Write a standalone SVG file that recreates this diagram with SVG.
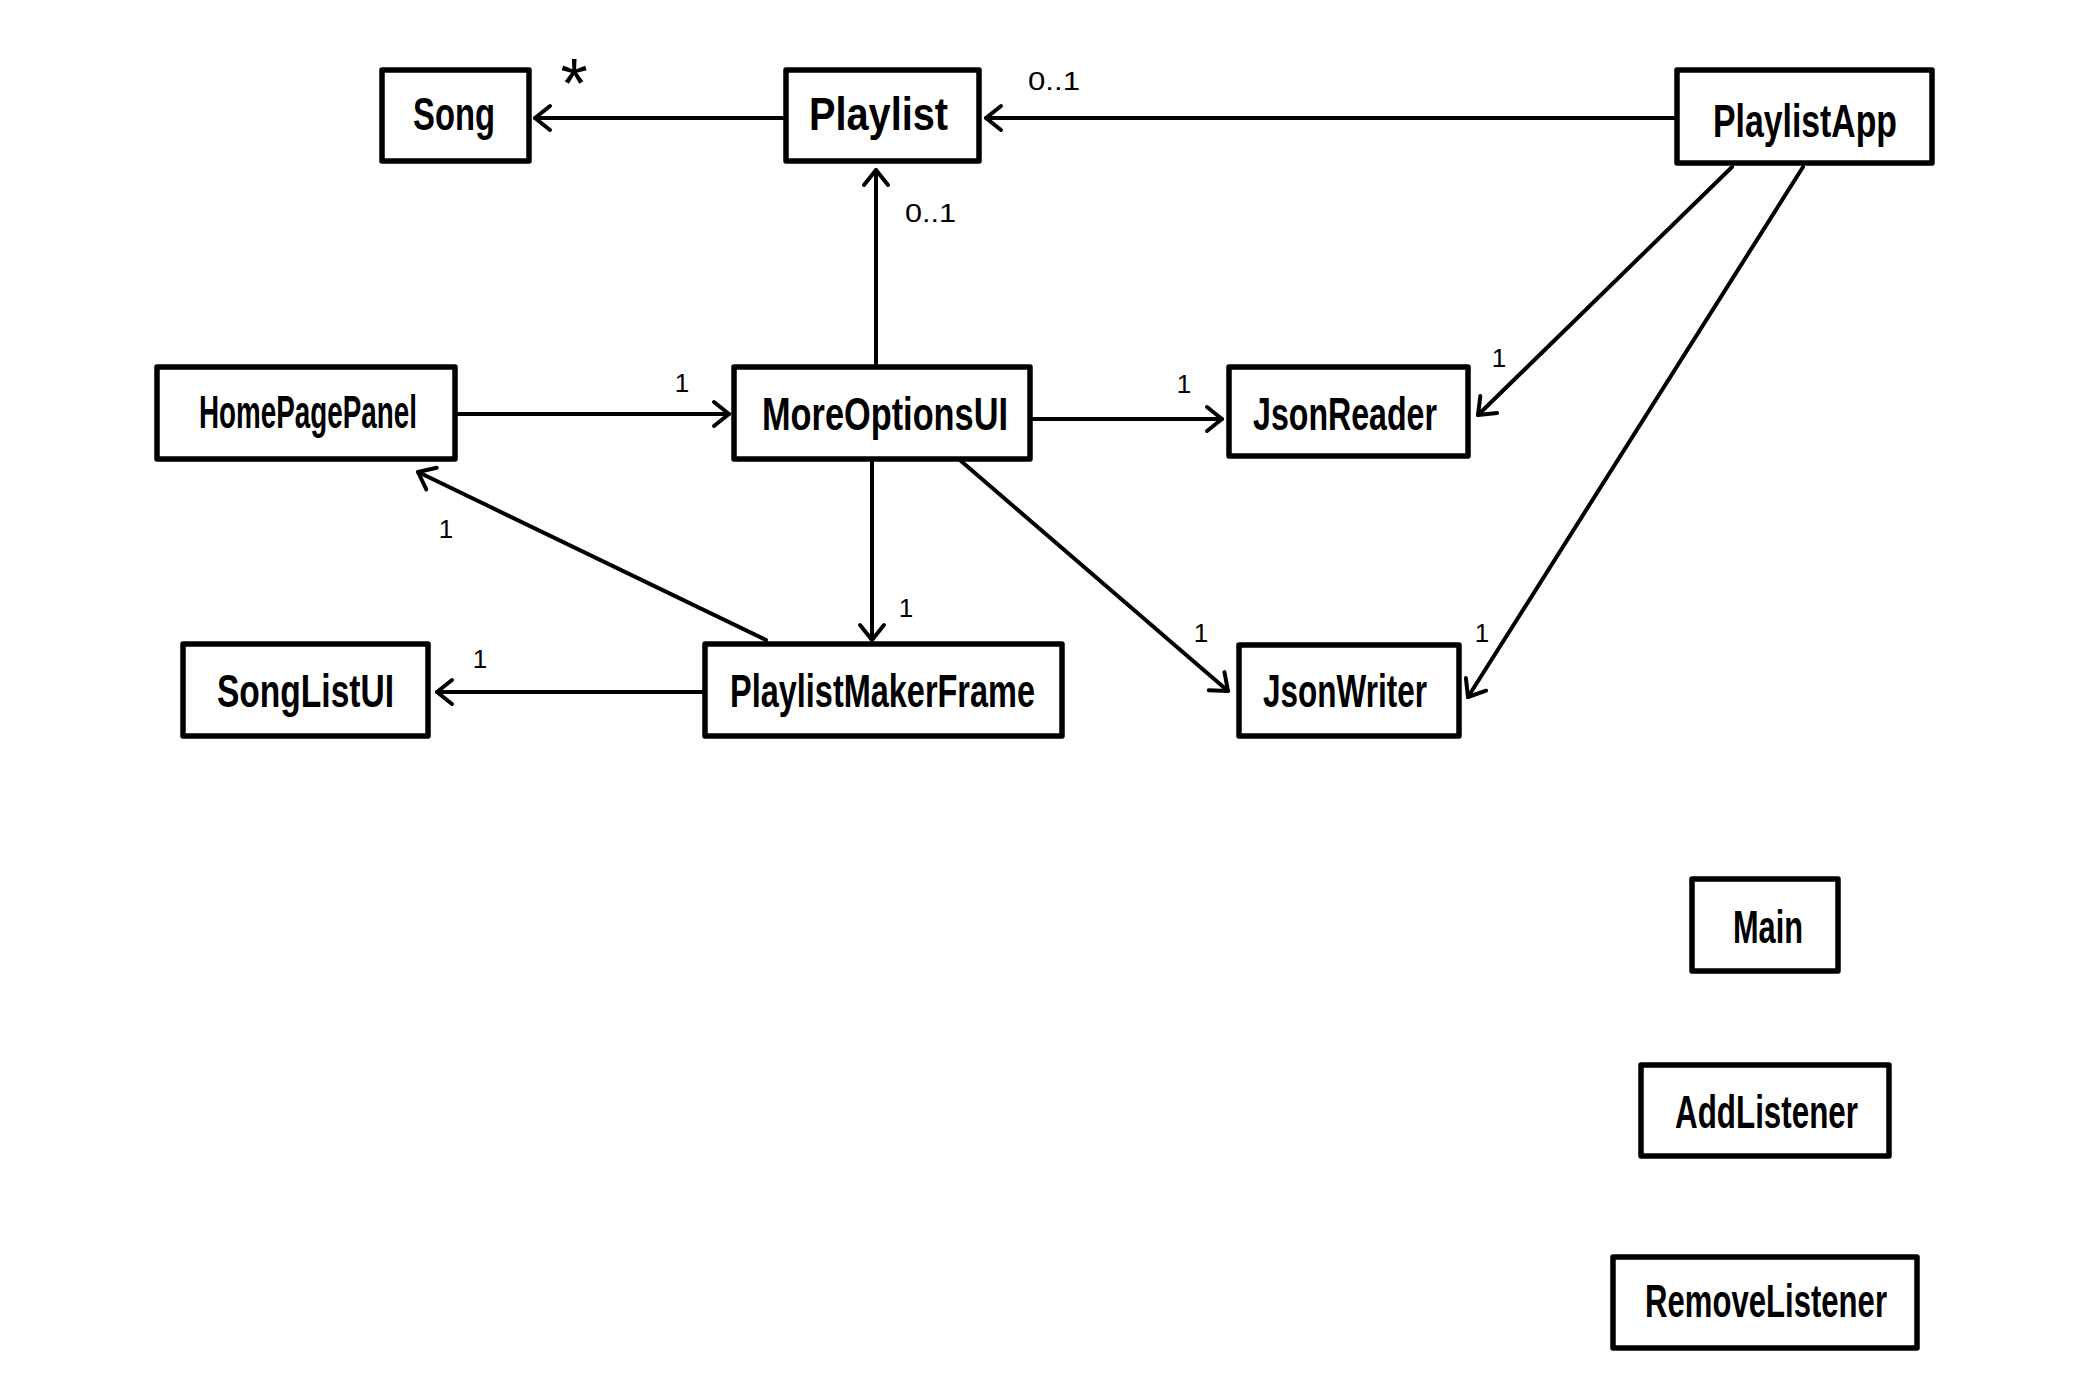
<svg xmlns="http://www.w3.org/2000/svg" width="2092" height="1394" viewBox="0 0 2092 1394">
<style>
.box{fill:#fff;stroke:#000;stroke-width:5.5;stroke-linejoin:round}
.lbl{font-family:"Liberation Sans",Arial,sans-serif;font-size:46px;font-weight:bold;fill:#000}
.m{font-family:"Liberation Sans",Arial,sans-serif;font-size:26px;fill:#000}
.c{fill:none;stroke:#000;stroke-width:4;stroke-linecap:round}
</style>
<defs>
<marker id="arr" markerUnits="userSpaceOnUse" markerWidth="40" markerHeight="40" refX="0" refY="0" viewBox="-20 -20 40 40" orient="auto" overflow="visible">
<path d="M -15 -12 L 0 0 L -15 12" fill="none" stroke="#000" stroke-width="4" stroke-linecap="round" stroke-linejoin="round"/>
</marker>
</defs>
<rect width="2092" height="1394" fill="#fff"/>
<g id="connectors">
<path class="c" d="M 784 118 L 535 118" marker-end="url(#arr)"/>
<path class="c" d="M 1675 118 L 986 118" marker-end="url(#arr)"/>
<path class="c" d="M 876 365 L 876 170" marker-end="url(#arr)"/>
<path class="c" d="M 457 414 L 729 414" marker-end="url(#arr)"/>
<path class="c" d="M 1032 419 L 1222 419" marker-end="url(#arr)"/>
<path class="c" d="M 872 461 L 872 640" marker-end="url(#arr)"/>
<path class="c" d="M 703 692 L 437 692" marker-end="url(#arr)"/>
<path class="c" d="M 766 640 L 418 472" marker-end="url(#arr)"/>
<path class="c" d="M 961 461 L 1228 691" marker-end="url(#arr)"/>
<path class="c" d="M 1732 167 L 1478 415" marker-end="url(#arr)"/>
<path class="c" d="M 1803 167 L 1468 697" marker-end="url(#arr)"/>
<text class="m" x="574" y="108" text-anchor="middle" style="font-size:70px">*</text>
<text class="m" x="905" y="222" textLength="51" lengthAdjust="spacingAndGlyphs">0..1</text>
<text class="m" x="1028" y="90" textLength="52" lengthAdjust="spacingAndGlyphs">0..1</text>
<text class="m" x="682" y="392" text-anchor="middle">1</text>
<text class="m" x="1184" y="393" text-anchor="middle">1</text>
<text class="m" x="1499" y="367" text-anchor="middle">1</text>
<text class="m" x="446" y="538" text-anchor="middle">1</text>
<text class="m" x="906" y="617" text-anchor="middle">1</text>
<text class="m" x="480" y="668" text-anchor="middle">1</text>
<text class="m" x="1201" y="642" text-anchor="middle">1</text>
<text class="m" x="1482" y="642" text-anchor="middle">1</text>
</g>
<g id="Song"><rect class="box" x="382" y="70" width="147" height="91"/><text class="lbl" x="413" y="130" textLength="82" lengthAdjust="spacingAndGlyphs">Song</text></g>
<g id="Playlist"><rect class="box" x="786" y="70" width="193" height="91"/><text class="lbl" x="809" y="130" textLength="139" lengthAdjust="spacingAndGlyphs">Playlist</text></g>
<g id="PlaylistApp"><rect class="box" x="1677" y="70" width="255" height="93"/><text class="lbl" x="1713" y="137" textLength="184" lengthAdjust="spacingAndGlyphs">PlaylistApp</text></g>
<g id="HomePagePanel"><rect class="box" x="157" y="367" width="298" height="92"/><text class="lbl" x="199" y="428" textLength="218" lengthAdjust="spacingAndGlyphs">HomePagePanel</text></g>
<g id="MoreOptionsUI"><rect class="box" x="734" y="367" width="296" height="92"/><text class="lbl" x="762" y="430" textLength="246" lengthAdjust="spacingAndGlyphs">MoreOptionsUI</text></g>
<g id="JsonReader"><rect class="box" x="1229" y="367" width="239" height="89"/><text class="lbl" x="1253" y="430" textLength="184" lengthAdjust="spacingAndGlyphs">JsonReader</text></g>
<g id="SongListUI"><rect class="box" x="183" y="644" width="245" height="92"/><text class="lbl" x="217" y="707" textLength="177" lengthAdjust="spacingAndGlyphs">SongListUI</text></g>
<g id="PlaylistMakerFrame"><rect class="box" x="705" y="644" width="357" height="92"/><text class="lbl" x="730" y="707" textLength="305" lengthAdjust="spacingAndGlyphs">PlaylistMakerFrame</text></g>
<g id="JsonWriter"><rect class="box" x="1239" y="645" width="220" height="91"/><text class="lbl" x="1263" y="707" textLength="164" lengthAdjust="spacingAndGlyphs">JsonWriter</text></g>
<g id="Main"><rect class="box" x="1692" y="879" width="146" height="92"/><text class="lbl" x="1733" y="943" textLength="70" lengthAdjust="spacingAndGlyphs">Main</text></g>
<g id="AddListener"><rect class="box" x="1641" y="1065" width="248" height="91"/><text class="lbl" x="1675" y="1128" textLength="183" lengthAdjust="spacingAndGlyphs">AddListener</text></g>
<g id="RemoveListener"><rect class="box" x="1613" y="1257" width="304" height="91"/><text class="lbl" x="1645" y="1317" textLength="242" lengthAdjust="spacingAndGlyphs">RemoveListener</text></g>
</svg>
